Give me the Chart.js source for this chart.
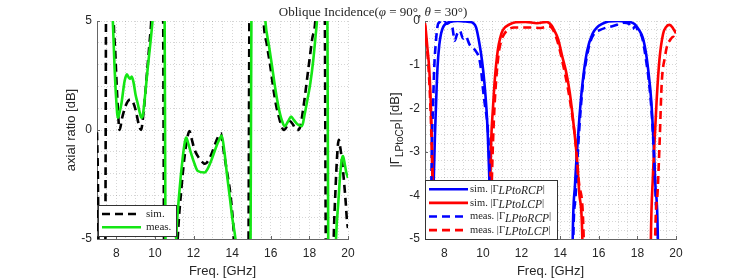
<!DOCTYPE html>
<html>
<head>
<meta charset="utf-8">
<title>Oblique Incidence</title>
<script src="https://cdn.jsdelivr.net/npm/chart.js@4.4.1/dist/chart.umd.min.js"></script>
<style>
  html, body { margin: 0; padding: 0; background: #fff; }
  #wrap { position: relative; width: 747px; height: 280px; }
  #wrap canvas { position: absolute; left: 0; top: 0; }
</style>
</head>
<body>
<div id="wrap">
  <canvas id="arChart" width="747" height="280"></canvas>
  <canvas id="gammaChart" width="747" height="280"></canvas>
</div>
<script>
'use strict';

// Axial ratio [dB] -- values of +/-12 only mark where the curve leaves the axes
const arSimFreq = [7.0, 7.04, 7.08, 7.14, 7.4, 7.5, 7.75, 7.85, 7.95, 8.05, 8.17, 8.3, 8.5, 8.72, 8.88, 9.02, 9.15, 9.28,
    9.42, 9.58, 9.72, 9.81, 9.95, 10.2, 10.38, 10.52, 10.8, 11.05, 11.18, 11.39, 11.57, 11.68, 11.79, 11.9, 12.05, 12.22,
    12.4, 12.6, 12.8, 12.99, 13.18, 13.34, 13.42, 13.48, 13.6, 13.75, 13.91, 14.08, 14.15, 14.3, 14.6, 14.8, 14.94, 15.2,
    15.5, 15.63, 15.8, 15.98, 16.15, 16.29, 16.45, 16.59, 16.7, 16.85, 17.0, 17.15, 17.3, 17.38, 17.53, 17.7, 17.96, 18.15,
    18.31, 18.45, 18.6, 18.75, 18.9, 19.1, 19.2, 19.26, 19.35, 19.45, 19.52, 19.6, 19.7, 19.77, 19.88, 19.95, 20.0];
const arSimDb = [-0.1, -1.8, -5.5, -12, -12, 12, 12, 5.5, 3.5, 1.5, 0.0, 0.55, 1.15, 1.4, 1.25, 0.85, 0.3, 0.0,
    0.9, 2.5, 4.0, 5.0, 8, 12, 12, -12, -12, -8, -5, -2.5, -0.96, -0.35, -0.05, -0.4, -0.89, -1.2,
    -1.42, -1.55, -1.35, -0.96, -0.5, -0.2, -0.15, -0.45, -1.2, -2.0, -2.95, -4.6, -5.5, -8, -12, -12, 12, 12,
    8, 5, 3.9, 2.9, 1.8, 1.08, 0.5, 0.09, 0.0, 0.2, 0.4, 0.25, 0.02, 0.0, 0.17, 1.1, 2.9, 4.2,
    5.05, 8, 12, 12, -12, -12, -8, -5, -2.8, -1.0, -0.45, -0.8, -1.5, -2.13, -3.3, -4.2, -4.5];

const arMeasFreq = [7.0, 7.6, 7.82, 7.91, 8.0, 8.08, 8.15, 8.26, 8.43, 8.55, 8.65, 8.72, 8.8, 8.9, 9.0, 9.1, 9.2, 9.3,
    9.36, 9.46, 9.63, 9.81, 9.89, 10.05, 10.25, 10.45, 10.6, 10.85, 11.0, 11.1, 11.27, 11.44, 11.55, 11.62, 11.72, 11.88,
    12.05, 12.22, 12.57, 12.75, 12.91, 13.1, 13.25, 13.34, 13.46, 13.6, 13.74, 13.88, 14.0, 14.17, 14.35, 14.7, 14.9, 15.05,
    15.4, 15.6, 15.72, 15.9, 16.07, 16.2, 16.33, 16.45, 16.59, 16.72, 16.9, 17.05, 17.2, 17.4, 17.62, 17.75, 17.9, 18.05,
    18.2, 18.32, 18.4, 18.55, 18.7, 18.88, 19.03, 19.2, 19.3, 19.38, 19.5, 19.6, 19.68, 19.74, 19.82, 19.9, 20.0];
const arMeasDb = [12, 12, 5.0, 2.86, 1.33, 0.56, 0.75, 1.18, 2.25, 2.55, 2.4, 2.35, 2.45, 2.15, 1.6, 1.25, 0.85, 0.56,
    0.62, 1.33, 2.86, 4.39, 5.2, 8, 12, 12, -12, -12, -8, -5, -2.8, -1.27, -0.55, -0.35, -0.6, -1.1,
    -1.55, -1.88, -1.95, -1.75, -1.42, -0.95, -0.6, -0.43, -0.25, -1.0, -2.1, -3.1, -4.0, -5.0, -7, -12, -12, 12,
    12, 7, 5, 3.9, 2.9, 2.1, 1.39, 0.85, 0.4, 0.17, 0.4, 0.62, 0.45, 0.25, 0.18, 0.7, 1.4, 2.15,
    3.2, 4.3, 5.1, 8, 12, 12, -12, -12, -8, -5, -3.3, -2.0, -1.35, -1.2, -1.5, -1.9, -2.2];

// |Gamma LP->RCP| and |Gamma LP->LCP| [dB] -- -12 marks the curve below the axes
const rcpSimFreq = [7.0, 7.25, 7.38, 7.45, 7.51, 7.58, 7.65, 7.74, 7.83, 7.95, 8.09, 8.3, 8.7, 9.0, 9.3, 9.5, 9.65, 9.82,
    9.95, 10.08, 10.18, 10.25, 10.3, 10.36, 10.42, 10.55, 14.5, 14.65, 14.77, 14.87, 15.0, 15.15, 15.39, 15.69, 15.9, 16.12,
    16.5, 17.0, 17.4, 17.6, 17.85, 18.05, 18.29, 18.45, 18.55, 18.72, 18.86, 18.93, 19.06, 19.2, 20.0];
const rcpSimDb = [-12, -12, -5, -3.7, -2.7, -1.8, -1.05, -0.55, -0.29, -0.13, -0.06, -0.02, 0, -0.01, -0.02, -0.05, -0.15, -0.52,
    -0.9, -1.43, -2.0, -2.58, -3.2, -4.0, -5, -12, -12, -5, -3.75, -3.0, -2.2, -1.46, -0.7, -0.28, -0.15, -0.08,
    -0.01, 0, -0.01, -0.02, -0.07, -0.18, -0.4, -0.75, -1.08, -1.84, -3.0, -3.75, -5, -12, -12];

const lcpSimFreq = [7.0, 7.05, 7.12, 7.22, 7.3, 7.36, 7.4, 7.44, 7.55, 10.25, 10.33, 10.38, 10.43, 10.52, 10.6, 10.77, 10.9,
    11.03, 11.38, 11.7, 12.2, 12.8, 13.3, 13.55, 13.7, 13.9, 14.1, 14.3, 14.5, 14.75, 14.88, 15.0, 15.15, 15.3, 18.55,
    18.7, 18.8, 18.88, 19.0, 19.14, 19.33, 19.5, 19.67, 19.85, 20.0];
const lcpSimDb = [-0.05, -0.25, -0.6, -1.1, -1.9, -2.8, -3.8, -5, -12, -12, -5, -3.8, -2.73, -2.0, -1.43, -0.67, -0.38,
    -0.21, -0.08, -0.03, -0.02, -0.05, -0.02, -0.1, -0.22, -0.42, -0.8, -1.15, -1.65, -2.6, -3.2, -4.0, -5, -12, -12,
    -5, -3.6, -2.85, -1.8, -0.9, -0.3, -0.13, -0.09, -0.17, -0.28];

const rcpMeasFreq = [7.0, 7.2, 7.3, 7.36, 7.42, 7.48, 7.56, 7.65, 7.75, 7.9, 8.0, 8.15, 8.3, 8.42, 8.54, 8.66, 8.8, 8.97,
    9.1, 9.32, 9.58, 9.8, 9.9, 10.0, 10.1, 10.27, 10.35, 10.4, 10.5, 14.5, 14.68, 14.8, 14.93, 15.05, 15.18, 15.35, 15.53,
    15.75, 16.05, 16.4, 16.7, 17.0, 17.3, 17.55, 17.75, 17.9, 18.05, 18.25, 18.45, 18.6, 18.74, 18.85, 18.95, 19.02,
    19.15, 20.0];
const rcpMeasDb = [-12, -12, -5, -2.8, -1.9, -1.05, -0.5, -0.12, -0.03, -0.08, -0.02, -0.06, -0.03, -0.15, -0.45, -0.3,
    -0.22, -0.4, -0.35, -0.55, -0.66, -0.85, -1.1, -1.55, -1.92, -2.6, -3.6, -5, -12, -12, -5, -4.0, -2.9, -2.1, -1.43,
    -0.9, -0.52, -0.3, -0.21, -0.15, -0.12, -0.08, -0.04, -0.06, -0.18, -0.12, -0.25, -0.38, -0.9, -1.4, -2.1, -3.0,
    -4.1, -5, -12, -12];

const lcpMeasFreq = [7.0, 7.08, 7.2, 7.3, 7.38, 7.44, 7.55, 10.3, 10.4, 10.46, 10.52, 10.62, 10.8, 10.95, 11.1, 11.3,
    11.6, 12.0, 12.5, 13.0, 13.4, 13.6, 13.85, 14.2, 14.5, 14.78, 15.0, 15.22, 15.35, 18.75, 18.92, 19.05, 19.15, 19.26,
    19.43, 19.55, 19.69, 19.85, 20.0];
const lcpMeasDb = [-0.1, -0.5, -1.2, -2.2, -3.5, -5, -12, -12, -5, -3.7, -2.8, -1.8, -0.8, -0.45, -0.3, -0.2,
    -0.15, -0.15, -0.15, -0.16, -0.12, -0.18, -0.45, -1.1, -1.8, -2.7, -3.8, -5, -12, -12, -5, -3.9, -2.8, -1.43,
    -0.82, -0.55, -0.44, -0.36, -0.42];

// labelled ticks
const freqTicks = [8, 10, 12, 14, 16, 18, 20];
const arTicks = [-5, 0, 5];
const gammaTicks = [-5, -4, -3, -2, -1, 0];

const textColor = '#262626';
const axisColor = '#666666';
const gridColor = 'rgba(0, 0, 0, 0.16)';
const serif = "'Liberation Serif', 'Times New Roman', serif";
const sans = "'Liberation Sans', Arial, sans-serif";

Chart.defaults.font.family = sans;
Chart.defaults.color = textColor;

/**
 * Pair frequency and value arrays into {x, y} points
 */
function toPoints(freq, db) {
    return freq.map((f, i) => ({ x: f, y: db[i] }));
}

function isMajor(value, list) {
    return list.some(t => Math.abs(t - value) < 1e-6);
}

/**
 * Draw a run of text pieces; subscripts are written as _{...}
 */
function drawRich(ctx, x, y, text, font, subFont, subDy) {
    const parts = text.split(/_\{([^}]*)\}/);
    parts.forEach((p, i) => {
        const isSub = i % 2 === 1;
        ctx.font = isSub ? subFont : font;
        ctx.fillText(p, x, y + (isSub ? subDy : 0));
        x += ctx.measureText(p).width;
    });
    return x;
}

function richWidth(ctx, text, font, subFont) {
    let w = 0;
    text.split(/_\{([^}]*)\}/).forEach((p, i) => {
        ctx.font = i % 2 === 1 ? subFont : font;
        w += ctx.measureText(p).width;
    });
    return w;
}

/**
 * Legend box sitting inside the bottom-left corner of the axes
 */
function drawLegend(chart, box) {
    const ctx = chart.ctx;
    const a = chart.chartArea;
    const x0 = Math.round(a.left + box.dx);
    const y0 = Math.round(a.bottom - box.dy - box.h);

    ctx.save();
    ctx.fillStyle = '#fff';
    ctx.fillRect(x0, y0, box.w, box.h);
    ctx.strokeStyle = '#333';
    ctx.lineWidth = 1;
    ctx.strokeRect(x0 + 0.5, y0 + 0.5, box.w, box.h);

    chart.data.datasets.forEach((ds, i) => {
        const ry = y0 + box.first + i * box.rowH;
        ctx.strokeStyle = ds.borderColor;
        ctx.lineWidth = ds.borderWidth;
        ctx.setLineDash(ds.borderDash || []);
        ctx.beginPath();
        ctx.moveTo(x0 + box.line0, ry);
        ctx.lineTo(x0 + box.line1, ry);
        ctx.stroke();
        ctx.setLineDash([]);
        ctx.fillStyle = textColor;
        ctx.textBaseline = 'middle';
        drawRich(ctx, x0 + box.text, ry, ds.label, box.font, box.subFont, 2);
    });
    ctx.restore();
}

/**
 * Inward tick marks (MATLAB style) plus the legend
 */
function decorPlugin(yTicks, legendBox, extra) {
    return {
        id: 'decor',
        afterDraw(chart) {
            const ctx = chart.ctx;
            const a = chart.chartArea;
            const xs = chart.scales.x;
            const ys = chart.scales.y;
            ctx.save();
            ctx.strokeStyle = axisColor;
            ctx.lineWidth = 1;
            ctx.beginPath();
            freqTicks.forEach(v => {
                const px = Math.round(xs.getPixelForValue(v)) + 0.5;
                ctx.moveTo(px, a.bottom);
                ctx.lineTo(px, a.bottom - 3);
            });
            yTicks.forEach(v => {
                const py = Math.round(ys.getPixelForValue(v)) + 0.5;
                ctx.moveTo(a.left, py);
                ctx.lineTo(a.left + 3, py);
            });
            ctx.stroke();
            ctx.restore();
            drawLegend(chart, legendBox);
            if (extra) {
                extra(chart);
            }
        }
    };
}

function lineSet(label, freq, db, color, dashed, order) {
    return {
        label: label,
        data: toPoints(freq, db),
        borderColor: color,
        borderWidth: 2.6,
        borderDash: dashed ? [8, 5] : [],
        pointRadius: 0,
        cubicInterpolationMode: 'monotone',
        clip: 0,
        order: order
    };
}

function scaleOptions(pad, yMin, yMax, yStep, yTicks, yWidth, yTitle) {
    return {
        responsive: false,
        animation: false,
        devicePixelRatio: 1,
        events: [],
        layout: { padding: pad },
        plugins: { legend: { display: false }, tooltip: { enabled: false } },
        scales: {
            x: {
                type: 'linear',
                min: 7,
                max: 20,
                afterFit: s => { s.height = 41; },
                ticks: {
                    stepSize: 0.5,
                    autoSkip: false,
                    maxRotation: 0,
                    padding: 7,
                    font: { size: 12 },
                    callback: v => (isMajor(v, freqTicks) ? String(Math.round(v)) : '')
                },
                grid: { color: gridColor, drawTicks: false },
                border: { color: axisColor, width: 1, dash: [1, 2] },
                title: {
                    display: true,
                    text: 'Freq. [GHz]',
                    font: { size: 13 },
                    padding: { top: 0, bottom: 1 }
                }
            },
            y: {
                type: 'linear',
                min: yMin,
                max: yMax,
                afterFit: s => { s.width = yWidth; },
                ticks: {
                    stepSize: yStep,
                    autoSkip: false,
                    padding: 5,
                    font: { size: 12 },
                    callback: v => (isMajor(v, yTicks) ? String(Math.round(v)) : '')
                },
                grid: { color: gridColor, drawTicks: false },
                border: { color: axisColor, width: 1, dash: [1, 2] },
                title: {
                    display: !!yTitle,
                    text: yTitle || '',
                    font: { size: 13 },
                    padding: { top: 4, bottom: 0 }
                }
            }
        }
    };
}

/**
 * Figure title and the y label of the right axes (it carries a subscript)
 */
function drawGammaExtras(chart) {
    const ctx = chart.ctx;
    const a = chart.chartArea;
    ctx.save();
    ctx.fillStyle = textColor;
    ctx.textBaseline = 'middle';

    // title across both axes
    const titleParts = [
        ['Oblique Incidence(', ''], ['φ', 'italic '], [' = 90°, ', ''], ['θ', 'italic '], [' = 30°)', '']
    ];
    let tw = 0;
    titleParts.forEach(p => { ctx.font = p[1] + '13px ' + serif; tw += ctx.measureText(p[0]).width; });
    let tx = 373 - tw / 2;
    titleParts.forEach(p => {
        ctx.font = p[1] + '13px ' + serif;
        ctx.fillText(p[0], tx, 13);
        tx += ctx.measureText(p[0]).width;
    });

    // rotated y label
    const label = '|Γ_{LPtoCP}| [dB]';
    const f = '13px ' + sans;
    const sf = '10px ' + sans;
    const w = richWidth(ctx, label, f, sf);
    ctx.translate(395, (a.top + a.bottom) / 2);
    ctx.rotate(-Math.PI / 2);
    drawRich(ctx, -w / 2, 0, label, f, sf, 5);
    ctx.restore();
}

function initCharts() {
    // Axial ratio
    new Chart(document.getElementById('arChart'), {
        type: 'line',
        data: {
            datasets: [
                lineSet('sim.', arSimFreq, arSimDb, '#000000', true, 1),
                lineSet('meas.', arMeasFreq, arMeasDb, 'rgb(20, 230, 20)', false, 0)
            ]
        },
        options: scaleOptions({ left: 60, right: 399, top: 21, bottom: 0 }, -5, 5, 1, arTicks, 37, 'axial ratio [dB]'),
        plugins: [decorPlugin(arTicks, {
            dx: 1, dy: 3, w: 78, h: 31, first: 9, rowH: 13.3, line0: 4, line1: 43, text: 48,
            font: '11px ' + serif, subFont: 'italic 11px ' + serif
        })]
    });

    // Linear to circular conversion
    new Chart(document.getElementById('gammaChart'), {
        type: 'line',
        data: {
            datasets: [
                lineSet('sim. |Γ_{LPtoRCP}|', rcpSimFreq, rcpSimDb, '#0000ff', false, 3),
                lineSet('sim. |Γ_{LPtoLCP}|', lcpSimFreq, lcpSimDb, '#ff0000', false, 2),
                lineSet('meas. |Γ_{LPtoRCP}|', rcpMeasFreq, rcpMeasDb, '#0000ff', true, 1),
                lineSet('meas. |Γ_{LPtoLCP}|', lcpMeasFreq, lcpMeasDb, '#ff0000', true, 0)
            ]
        },
        options: scaleOptions({ left: 380, right: 71, top: 21, bottom: 0 }, -5, 0, 0.2, gammaTicks, 45, ''),
        plugins: [decorPlugin(gammaTicks, {
            dx: 0, dy: 0, w: 132, h: 59, first: 9.3, rowH: 13.6, line0: 4, line1: 43, text: 45,
            font: '10.5px ' + serif, subFont: 'italic 11.5px ' + serif
        }, drawGammaExtras)]
    });
}

initCharts();
</script>
</body>
</html>
